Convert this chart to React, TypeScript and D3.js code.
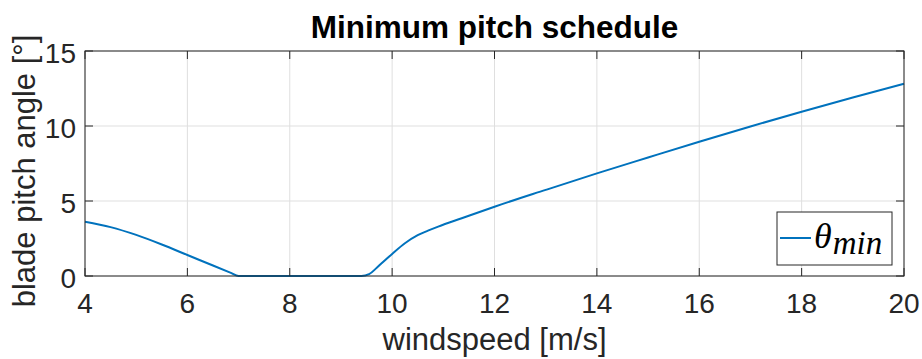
import { useEffect, useRef } from 'react';
import * as d3 from 'd3';

// windspeed [m/s] and minimum blade pitch [deg]
const windspeed = [4, 4.5, 5, 5.5, 6, 6.5, 6.85, 7, 7.5, 8, 8.5, 9, 9.4, 9.55, 9.7, 9.85, 10, 10.25, 10.5, 10.7, 10.9, 11.36, 12, 13, 14, 15, 16, 17, 18, 19, 20];
const pitchMin = [3.62, 3.26, 2.74, 2.1, 1.4, 0.7, 0.21, 0, 0, 0, 0, 0, 0, 0.12, 0.55, 1.02, 1.47, 2.18, 2.72, 3.02, 3.29, 3.85, 4.62, 5.74, 6.84, 7.9, 8.95, 9.97, 10.95, 11.9, 12.82];
const xTicks = [4, 6, 8, 10, 12, 14, 16, 18, 20];
const yTicks = [0, 5, 10, 15];

const W = 922;
const H = 359;
const margin = { top: 51, right: 18, bottom: 83, left: 85 };
const font = "'Liberation Sans', Arial, Helvetica, sans-serif";
const axisColor = '#262626';

const App = () => {
  const svgRef = useRef<SVGSVGElement>(null);

  useEffect(() => {
    const svg = d3.select(svgRef.current);
    svg.selectAll('*').remove();

    const x0 = margin.left, x1 = W - margin.right;
    const y0 = H - margin.bottom, y1 = margin.top;
    const x = d3.scaleLinear().domain([4, 20]).range([x0, x1]);
    const y = d3.scaleLinear().domain([0, 15]).range([y0, y1]);

    svg.append('rect').attr('width', W).attr('height', H).attr('fill', '#fff');

    // grid
    const grid = svg.append('g').attr('stroke', '#dfdfdf').attr('stroke-width', 1);
    xTicks.forEach(t => {
      grid.append('line').attr('x1', x(t)).attr('x2', x(t)).attr('y1', y0).attr('y2', y1);
    });
    yTicks.forEach(t => {
      grid.append('line').attr('x1', x0).attr('x2', x1).attr('y1', y(t)).attr('y2', y(t));
    });

    // data line
    const line = d3.line<number>()
      .x((_, i) => x(windspeed[i]))
      .y(d => y(d))
      .curve(d3.curveMonotoneX);
    svg.append('path')
      .datum(pitchMin)
      .attr('d', line)
      .attr('fill', 'none')
      .attr('stroke', '#0072BD')
      .attr('stroke-width', 2);

    // box + inner ticks
    const ax = svg.append('g').attr('stroke', axisColor).attr('stroke-width', 1).attr('fill', 'none');
    ax.append('rect').attr('x', x0).attr('y', y1).attr('width', x1 - x0).attr('height', y0 - y1);
    const tl = 8;
    xTicks.forEach(t => {
      ax.append('line').attr('x1', x(t)).attr('x2', x(t)).attr('y1', y0).attr('y2', y0 - tl);
      ax.append('line').attr('x1', x(t)).attr('x2', x(t)).attr('y1', y1).attr('y2', y1 + tl);
    });
    yTicks.forEach(t => {
      ax.append('line').attr('x1', x0).attr('x2', x0 + tl).attr('y1', y(t)).attr('y2', y(t));
      ax.append('line').attr('x1', x1).attr('x2', x1 - tl).attr('y1', y(t)).attr('y2', y(t));
    });

    // tick labels
    svg.append('g').selectAll('text').data(xTicks).enter().append('text')
      .attr('x', d => x(d)).attr('y', y0 + 37)
      .attr('text-anchor', 'middle')
      .attr('font-family', font).attr('font-size', 28).attr('fill', axisColor)
      .text(d => d);
    svg.append('g').selectAll('text').data(yTicks).enter().append('text')
      .attr('x', x0 - 9).attr('y', d => y(d) + 12)
      .attr('text-anchor', 'end')
      .attr('font-family', font).attr('font-size', 28).attr('fill', axisColor)
      .text(d => d);

    // axis labels
    svg.append('text')
      .attr('x', (x0 + x1) / 2).attr('y', 350)
      .attr('text-anchor', 'middle')
      .attr('font-family', font).attr('font-size', 31).attr('fill', axisColor)
      .text('windspeed [m/s]');
    svg.append('text')
      .attr('transform', `translate(35,171) rotate(-90)`)
      .attr('text-anchor', 'middle')
      .attr('font-family', font).attr('font-size', 31).attr('fill', axisColor)
      .text('blade pitch angle [°]');

    // title
    svg.append('text')
      .attr('x', (x0 + x1) / 2).attr('y', 38)
      .attr('text-anchor', 'middle')
      .attr('font-family', font).attr('font-size', 31.5).attr('font-weight', 'bold')
      .attr('fill', '#000')
      .text('Minimum pitch schedule');

    // legend
    const lg = svg.append('g');
    lg.append('rect')
      .attr('x', 777).attr('y', 212).attr('width', 115).attr('height', 53)
      .attr('fill', '#fff').attr('stroke', axisColor).attr('stroke-width', 1);
    lg.append('line')
      .attr('x1', 780).attr('x2', 811).attr('y1', 238).attr('y2', 238)
      .attr('stroke', '#0072BD').attr('stroke-width', 2);
    const lt = lg.append('text')
      .attr('x', 814).attr('y', 248)
      .attr('font-family', "'Liberation Serif', 'DejaVu Serif', serif")
      .attr('font-style', 'italic').attr('fill', '#000');
    lt.append('tspan').attr('font-size', 36).text('θ');
    lt.append('tspan').attr('font-size', 33).attr('dx', 1).attr('dy', 6).text('min');
  }, []);

  return (
    <svg
      ref={svgRef}
      width={W}
      height={H}
      style={{ position: 'absolute', left: 0, top: 0, display: 'block' }}
    />
  );
};

export default App;
